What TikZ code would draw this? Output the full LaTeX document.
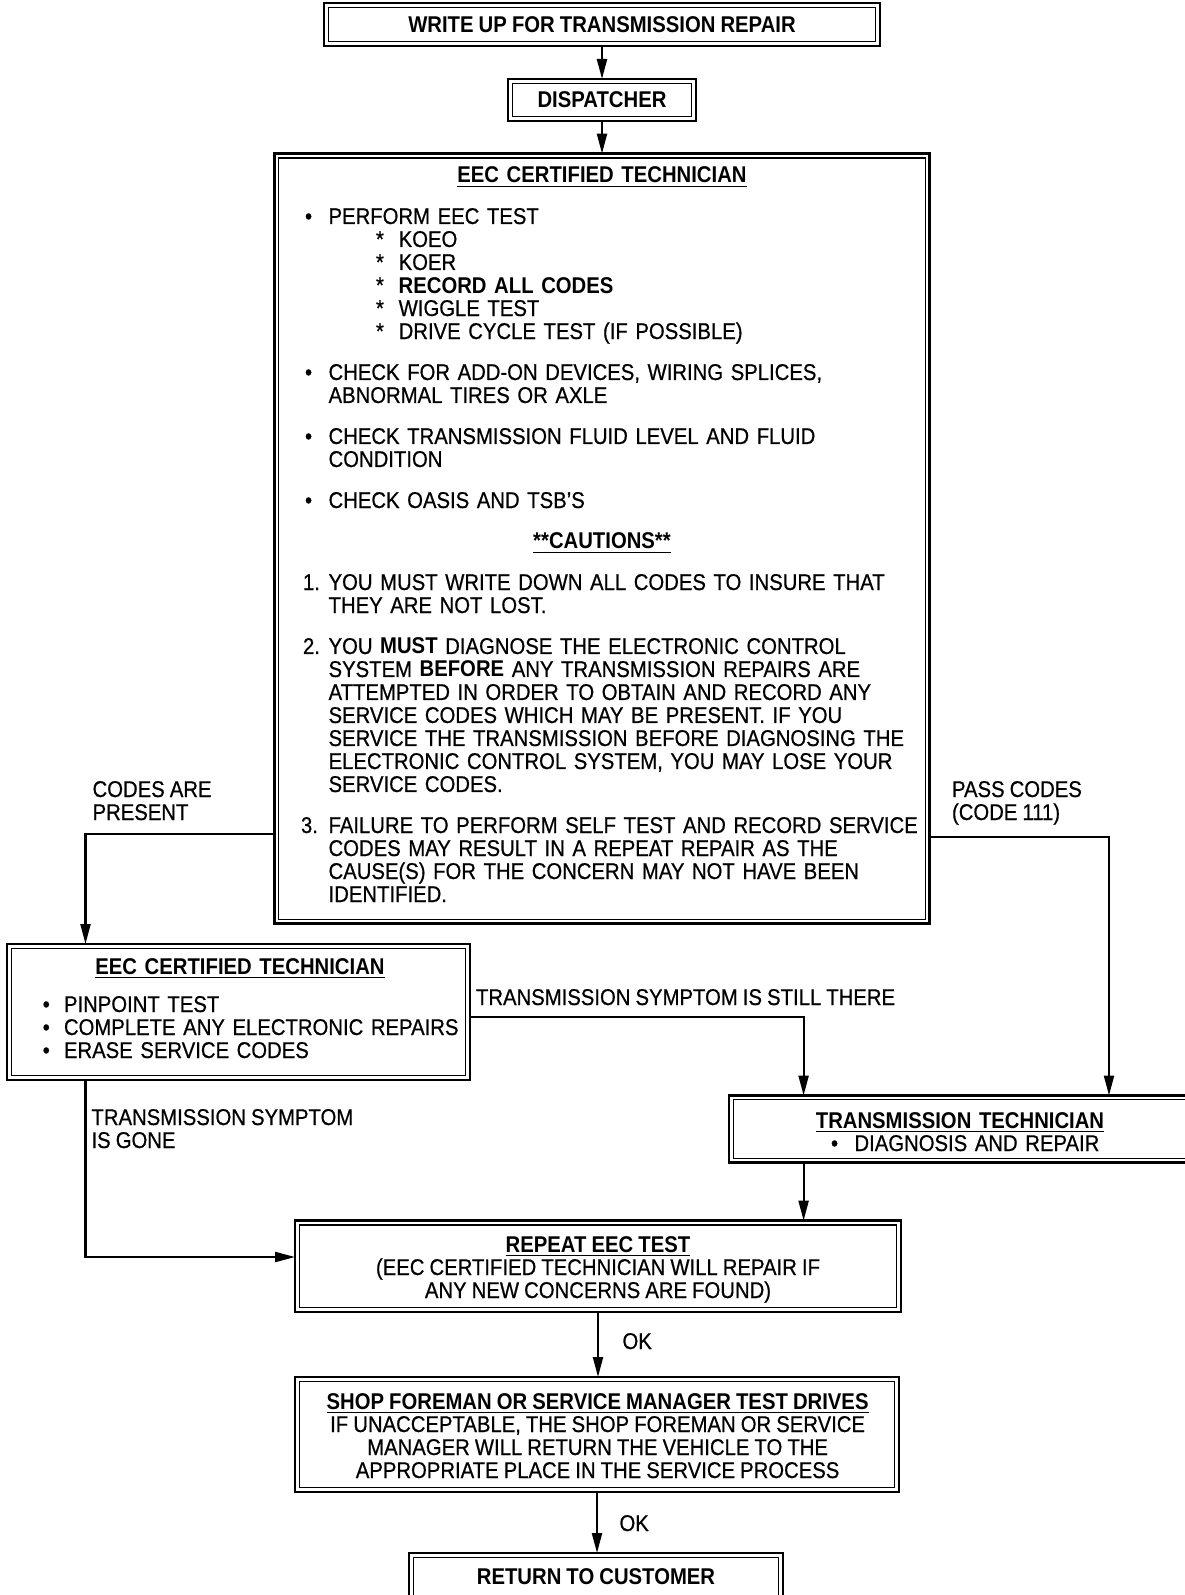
\documentclass[tikz,border=0pt]{standalone}
\usepackage{fontspec}
\setmainfont{Liberation Sans}[FakeStretch=0.89, WordSpace=0.9, UprightFeatures={FakeBold=0.6}]
\usetikzlibrary{arrows.meta}
\newcommand{\diafont}{\fontsize{11.4pt}{11.5pt}\selectfont}
\newcommand{\bul}[1]{\makebox[#1][l]{\textbullet}}
\tikzset{
  dbox/.style={draw, line width=1.3pt, inner sep=0pt, outer sep=0pt},
  inbox/.style={line width=0.55pt},
  arr/.style={line width=1.1pt, -{Triangle[length=10pt,width=5pt]}},
  txt/.style={inner sep=0pt, outer sep=0pt, font=\diafont},
  lbl/.style={txt, anchor=base west, align=left},
  ctxt/.style={txt, anchor=base, align=center},
}
\begin{document}
\begin{tikzpicture}[x=0.5pt, y=-0.5pt]
\useasboundingbox (0,0) rectangle (1184,1595);

% ---- boxes ----
\node[dbox, minimum width=278pt, minimum height=21.5pt] (top) at (602,24.5) {};
\node[dbox, minimum width=94pt, minimum height=21pt] (disp) at (602,100) {};
\node[dbox, minimum width=327.5pt, minimum height=385pt] (big) at (602,538.6) {};
\node[dbox, minimum width=231.5pt, minimum height=68pt] (left) at (238.5,1012) {};
\node[dbox, minimum width=231.5pt, minimum height=33.5pt] (tt) at (960.5,1129) {};
\node[dbox, minimum width=303pt, minimum height=45.7pt] (rep) at (598,1266.3) {};
\node[dbox, minimum width=302pt, minimum height=57.5pt] (shop) at (597,1434.5) {};
\node[dbox, minimum width=187pt, minimum height=26pt] (ret) at (596,1579) {};

\foreach \n in {top,disp,big,left,tt,rep,shop,ret}
  \draw[inbox] ([shift={(2.2pt,-2.2pt)}]\n.north west) rectangle ([shift={(-2.2pt,2.2pt)}]\n.south east);

% ---- box texts ----
\node[ctxt] (toptxt) at (602,32.5) {\textbf{WRITE UP FOR TRANSMISSION REPAIR}};
\node[ctxt] (disptxt) at (602,108) {\textbf{DISPATCHER}};

\node[txt, anchor=base west, text width=330pt, align=left] (bigtxt) at (305,183) {%
\makebox[297pt][c]{\underline{\textbf{EEC CERTIFIED TECHNICIAN}}}\\[9pt]
\bul{11.8pt}PERFORM EEC TEST\\
\hspace*{35.5pt}\makebox[11.35pt][l]{*}KOEO\\
\hspace*{35.5pt}\makebox[11.35pt][l]{*}KOER\\
\hspace*{35.5pt}\makebox[11.35pt][l]{*}\textbf{RECORD ALL CODES}\\
\hspace*{35.5pt}\makebox[11.35pt][l]{*}WIGGLE TEST\\
\hspace*{35.5pt}\makebox[11.35pt][l]{*}DRIVE CYCLE TEST (IF POSSIBLE)\\[9pt]
\bul{11.8pt}CHECK FOR ADD-ON DEVICES, WIRING SPLICES,\\
\hspace*{11.8pt}ABNORMAL TIRES OR AXLE\\[9pt]
\bul{11.8pt}CHECK TRANSMISSION FLUID LEVEL AND FLUID\\
\hspace*{11.8pt}CONDITION\\[9pt]
\bul{11.8pt}CHECK OASIS AND TSB'S\\[9pt]
\makebox[297pt][c]{\underline{\textbf{**CAUTIONS**}}}\\[9pt]
\makebox[11.8pt][l]{\hspace*{-1pt}1.}YOU MUST WRITE DOWN ALL CODES TO INSURE THAT\\
\hspace*{11.8pt}THEY ARE NOT LOST.\\[9pt]
\makebox[11.8pt][l]{\hspace*{-1pt}2.}YOU \textbf{MUST} DIAGNOSE THE ELECTRONIC CONTROL\\
\hspace*{11.8pt}SYSTEM \textbf{BEFORE} ANY TRANSMISSION REPAIRS ARE\\
\hspace*{11.8pt}ATTEMPTED IN ORDER TO OBTAIN AND RECORD ANY\\
\hspace*{11.8pt}SERVICE CODES WHICH MAY BE PRESENT. IF YOU\\
\hspace*{11.8pt}SERVICE THE TRANSMISSION BEFORE DIAGNOSING THE\\
\hspace*{11.8pt}ELECTRONIC CONTROL SYSTEM, YOU MAY LOSE YOUR\\
\hspace*{11.8pt}SERVICE CODES.\\[9pt]
\makebox[11.8pt][l]{\hspace*{-2pt}3.}FAILURE TO PERFORM SELF TEST AND RECORD SERVICE\\
\hspace*{11.8pt}CODES MAY RESULT IN A REPEAT REPAIR AS THE\\
\hspace*{11.8pt}CAUSE(S) FOR THE CONCERN MAY NOT HAVE BEEN\\
\hspace*{11.8pt}IDENTIFIED.};

\node[txt, anchor=base west, text width=225pt, align=left] (lefttxt) at (42.7,974) {%
\makebox[197.3pt][c]{\underline{\textbf{EEC CERTIFIED TECHNICIAN}}}\\[7.5pt]
\bul{10.65pt}PINPOINT TEST\\
\bul{10.65pt}COMPLETE ANY ELECTRONIC REPAIRS\\
\bul{10.65pt}ERASE SERVICE CODES};

\node[txt, anchor=base west, text width=200pt, align=left] (tttxt) at (831,1128) {%
\makebox[129pt][c]{\underline{\textbf{TRANSMISSION TECHNICIAN}}}\\
\bul{11.75pt}DIAGNOSIS AND REPAIR};

\node[ctxt] (reptxt) at (598,1298) {\underline{\textbf{REPEAT EEC TEST}}\\
(EEC CERTIFIED TECHNICIAN WILL REPAIR IF\\
ANY NEW CONCERNS ARE FOUND)};

\node[ctxt] (shoptxt) at (597.6,1478) {\underline{\textbf{SHOP FOREMAN OR SERVICE MANAGER TEST DRIVES}}\\
IF UNACCEPTABLE, THE SHOP FOREMAN OR SERVICE\\
MANAGER WILL RETURN THE VEHICLE TO THE\\
APPROPRIATE PLACE IN THE SERVICE PROCESS};

\node[ctxt] (rettxt) at (596,1584) {\textbf{RETURN TO CUSTOMER}};

% ---- connector labels ----
\node[lbl] (codes) at (92.6,820) {CODES ARE\\PRESENT};
\node[lbl] (pass) at (952,820) {PASS CODES\\(CODE 111)};
\node[lbl] (still) at (476,1005) {TRANSMISSION SYMPTOM IS STILL THERE};
\node[lbl] (gone) at (91.5,1148) {TRANSMISSION SYMPTOM\\IS GONE};
\node[lbl] (ok1) at (622.5,1349) {OK};
\node[lbl] (ok2) at (619.5,1531) {OK};

% ---- bend points ----
\coordinate (lbend) at (85.5,834);
\coordinate (rbend) at (1109,837);
\coordinate (sbend) at (803.6,1017);
\coordinate (gbend) at (85.5,1257);

% ---- connectors ----
\draw[arr] (top.south) -- (disp.north);
\draw[arr] (disp.south) -- (big.north);
\draw[arr] (lbend -| big.west) -- (lbend) -- (lbend |- left.north);
\draw[arr] (rbend -| big.east) -- (rbend) -- (rbend |- tt.north);
\draw[arr] (sbend -| left.east) -- (sbend) -- (sbend |- tt.north);
\draw[arr] (sbend |- tt.south) -- (sbend |- rep.north);
\draw[arr] (gbend |- left.south) -- (gbend) -- (gbend -| rep.west);
\draw[arr] (rep.south) -- (rep.south |- shop.north);
\draw[arr] (shop.south) -- (shop.south |- ret.north);
\end{tikzpicture}
\end{document}
